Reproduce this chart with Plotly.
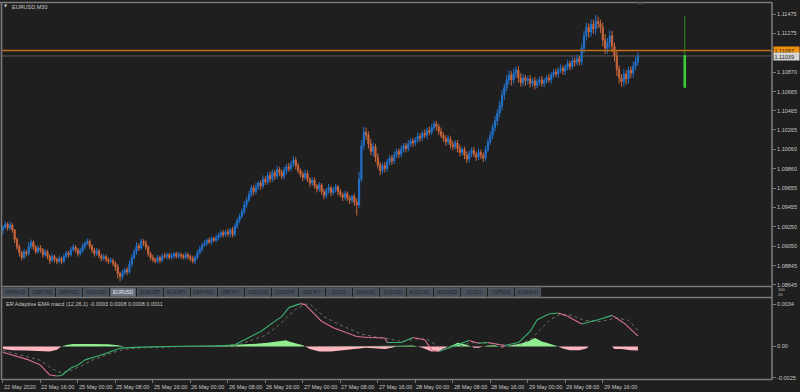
import plotly.graph_objects as go

# ---------------- DATA ----------------
symbol_title = "EURUSD,M30"
indicator_label = "ER Adaptive EMA macd (12,26,1) -0.0003 0.0008 0.0008 0.0011"

close = [
    1.0925, 1.0928, 1.0924, 1.0927, 1.0922, 1.0912, 1.0904, 1.0898, 1.0893, 1.0899, 1.0897, 1.0905, 1.0909, 1.0904, 1.0899, 1.0903,
    1.0901, 1.0896, 1.0899, 1.0894, 1.0890, 1.0894, 1.0891, 1.0889, 1.0892, 1.0889, 1.0894, 1.0898, 1.0896, 1.0901, 1.0904, 1.0901,
    1.0897, 1.0900, 1.0905, 1.0908, 1.0910, 1.0905, 1.0901, 1.0897, 1.0900, 1.0895, 1.0892, 1.0894, 1.0891, 1.0889, 1.0890, 1.0887,
    1.0883, 1.0876, 1.0873, 1.0877, 1.0880, 1.0878, 1.0886, 1.0893, 1.0899, 1.0905, 1.0903, 1.0910, 1.0908, 1.0904, 1.0897, 1.0893,
    1.0891, 1.0889, 1.0893, 1.0890, 1.0895, 1.0894, 1.0896, 1.0893, 1.0895, 1.0897, 1.0894, 1.0896, 1.0895, 1.0893, 1.0896, 1.0894,
    1.0892, 1.0889, 1.0893, 1.0898, 1.0902, 1.0906, 1.0908, 1.0911, 1.0909, 1.0913, 1.0911, 1.0914, 1.0916, 1.0919, 1.0917, 1.0920,
    1.0918, 1.0922, 1.0917, 1.0926, 1.0932, 1.0936, 1.0941, 1.0948, 1.0953, 1.0959, 1.0966, 1.0962, 1.0967, 1.0971, 1.0968, 1.0975,
    1.0972, 1.0979, 1.0975, 1.0982, 1.0978, 1.0985, 1.0982, 1.0978, 1.0984, 1.0988, 1.0986, 1.0991, 1.0995, 1.0989, 1.0984, 1.0980,
    1.0977, 1.0981, 1.0975, 1.0971, 1.0974, 1.0968, 1.0965, 1.0969, 1.0962, 1.0958, 1.0963, 1.0966, 1.0961, 1.0964, 1.0967, 1.0962,
    1.0959, 1.0956, 1.0960, 1.0955, 1.0953, 1.0957, 1.0951, 1.0948, 1.0975, 1.1010, 1.1024, 1.1021, 1.1012, 1.1004, 1.1009, 1.0998,
    1.0990, 1.0984, 1.0989, 1.0986, 1.0993, 1.0997, 1.0994, 1.1000, 1.1004, 1.1001, 1.1006, 1.1010, 1.1007, 1.1012, 1.1015, 1.1013,
    1.1016, 1.1020, 1.1018, 1.1023, 1.1021, 1.1026, 1.1024, 1.1029, 1.1033, 1.1030, 1.1025, 1.1021, 1.1018, 1.1014, 1.1017, 1.1011,
    1.1009, 1.1013, 1.1007, 1.1003, 1.1006, 1.1000, 1.0996, 1.1002, 1.1005, 1.1001, 1.0998, 1.1003, 1.1000, 1.0997, 1.1006, 1.1014,
    1.1021, 1.1029, 1.1036, 1.1044, 1.1052, 1.1063, 1.1071, 1.1079, 1.1084, 1.1079, 1.1086, 1.1089, 1.1081, 1.1076, 1.1081, 1.1078,
    1.1080, 1.1075, 1.1078, 1.1073, 1.1077, 1.1079, 1.1075, 1.1078, 1.1081, 1.1079, 1.1084, 1.1087, 1.1085, 1.1089, 1.1091, 1.1088,
    1.1092, 1.1096, 1.1093, 1.1099, 1.1097, 1.1101, 1.1098, 1.1112, 1.1125, 1.1134, 1.1129, 1.1137, 1.1132, 1.1140, 1.1138, 1.1134,
    1.1121, 1.1112, 1.1118, 1.1125, 1.1114, 1.1104, 1.1090, 1.1081, 1.1077, 1.1085, 1.1080, 1.1089, 1.1086, 1.1093, 1.1098, 1.1104,
]
first_open = 1.0922

# wick lengths in pips (0.0001)
upper_wick = [
    2,3,2,4,2,1,2,3,2,3,2,4,3,2,2,3,
    3,2,3,2,2,3,2,2,3,2,3,2,2,3,3,2,
    2,3,3,2,3,2,2,2,3,2,2,3,2,2,3,2,
    2,3,2,3,2,3,4,3,3,4,3,3,2,3,2,2,
    3,2,3,2,2,3,2,2,3,2,2,3,2,2,3,2,
    2,3,2,3,3,2,3,2,3,2,2,3,3,2,3,2,
    3,2,3,3,2,3,3,4,3,4,3,3,4,2,3,4,
    3,3,4,3,3,4,3,3,4,3,4,3,4,3,3,2,
    3,4,3,2,3,3,2,3,2,3,3,4,2,3,3,2,
    3,2,3,2,3,2,3,4,8,6,6,5,4,5,4,3,
    4,3,3,4,3,3,3,4,3,3,4,3,3,4,3,3,
    3,4,3,3,4,3,4,4,3,3,3,4,3,3,4,3,
    4,3,3,4,3,3,4,3,3,4,3,4,3,3,4,4,
    4,4,5,4,5,5,4,5,5,4,5,4,4,5,4,3,
    3,4,3,4,3,3,4,3,3,4,3,3,4,3,4,3,
    3,4,3,4,3,4,3,5,5,5,4,5,5,7,5,4,
    5,6,5,6,5,4,5,4,4,5,4,4,4,5,5,4,
]
lower_wick = [
    5,2,3,2,3,4,3,4,3,2,3,2,3,3,2,2,
    3,3,2,3,4,2,3,3,2,3,2,2,3,2,2,3,
    3,2,2,3,2,3,3,3,2,3,3,2,3,3,2,3,
    4,5,5,3,2,3,2,3,2,3,3,2,3,3,3,3,
    3,2,2,3,2,2,3,2,2,3,2,2,3,2,2,3,
    3,2,3,2,2,3,2,3,2,3,2,2,3,2,3,2,
    3,4,3,2,3,3,2,3,3,2,3,4,3,3,4,3,
    3,3,4,3,4,3,4,3,3,4,3,3,3,4,3,3,
    4,3,3,4,3,3,4,3,3,4,3,3,4,3,3,4,
    3,4,3,3,4,3,4,11,3,3,4,5,5,4,5,5,
    4,5,3,4,3,3,4,3,3,4,3,3,4,3,3,4,
    3,3,4,3,3,4,3,3,3,4,4,3,4,4,3,4,
    4,3,4,4,3,4,4,3,4,3,4,3,4,4,3,3,
    3,4,4,5,4,5,5,4,5,6,4,5,5,4,4,5,
    4,4,3,4,3,4,3,4,3,3,4,3,3,4,3,4,
    4,3,4,3,4,3,4,4,5,5,6,5,5,6,5,6,
    7,6,6,7,6,6,7,6,5,5,6,5,5,5,4,4,
]

time_labels = ["22 May 2020", "22 May 16:00", "25 May 00:00", "25 May 08:00", "25 May 16:00",
               "26 May 00:00", "26 May 08:00", "26 May 16:00", "27 May 00:00", "27 May 08:00",
               "27 May 16:00", "28 May 00:00", "28 May 08:00", "28 May 16:00", "29 May 00:00",
               "29 May 08:00", "29 May 16:00"]
time_label_bars = [0, 16, 32, 48, 64, 80, 96, 112, 128, 144, 160, 176, 192, 208, 224, 240, 256]

price_ticks = [1.11475, 1.11275, 1.10870, 1.10665, 1.10465, 1.10265, 1.10060, 1.09860,
               1.09655, 1.09455, 1.09250, 1.09050, 1.08845, 1.08645]
hline_price = 1.11097
bid_price = 1.11039

range_bar_index = 291
range_top, range_mid, range_bottom = 1.11454, 1.11046, 1.10706

macd_bar = [0, 11, 16, 20, 23, 25, 29, 32, 35, 42, 50, 59, 76, 93, 99, 110, 116, 119, 122, 127, 129,
            136, 141, 151, 156, 163, 164, 170, 175, 180, 183, 186, 194, 199, 203, 207, 214, 220,
            225, 228, 233, 237, 241, 247, 254, 260, 265, 271]
macd_val = [-0.00045, -0.00107, -0.00148, -0.00228, -0.00236, -0.00232, -0.00172, -0.00148, -0.00107,
            -0.00067, -0.00013, -0.00005, 0.00002, 0.00006, 0.00014, 0.00121, 0.00202, 0.00240, 0.00312,
            0.00344, 0.00336, 0.00202, 0.00151, 0.00081, 0.00073, 0.00068, 0.00032, 0.00032, 0.00073,
            0.00054, -0.00027, -0.00040, 0.00014, 0.00048, 0.00027, 0.00032, 0.00008, 0.00032, 0.00121,
            0.00215, 0.00261, 0.00269, 0.00242, 0.00181, 0.00215, 0.00250, 0.00189, 0.00086]

signal_bar = [0, 10, 16, 21, 25, 29, 33, 38, 45, 52, 60, 76, 94, 100, 112, 117, 121, 125, 129, 131, 137,
              143, 153, 158, 165, 170, 176, 181, 185, 188, 196, 200, 205, 210, 215, 221, 226, 230, 234,
              238, 243, 248, 255, 262, 267, 271]
signal_val = [-0.0003, -0.0008, -0.0011, -0.0018, -0.0021, -0.0019, -0.0016, -0.0011, -0.0006, -0.0002,
              -0.0001, 0.0, 0.00003, 0.0001, 0.0009, 0.0016, 0.0023, 0.0030, 0.0034, 0.0034, 0.0024,
              0.0018, 0.0010, 0.0008, 0.0006, 0.0004, 0.0006, 0.0006, 0.0001, -0.0002, 0.0001, 0.0003,
              0.0003, 0.0002, 0.0001, 0.0002, 0.0007, 0.0015, 0.0022, 0.0026, 0.0025, 0.0021, 0.0020,
              0.0023, 0.0021, 0.0013]

hist_bar = [0, 4, 10, 16, 20, 23, 25, 27, 30, 38, 45, 49, 52, 58, 60, 65, 67, 72, 80, 90, 95, 100, 108,
            113, 116, 119, 121, 122, 124, 126, 128, 129, 131, 135, 140, 145, 150, 155, 160, 163, 166,
            168, 170, 175, 177, 179, 183, 186, 189, 190, 192, 194, 196, 198, 200, 201, 203, 205, 207,
            210, 212, 213, 215, 217, 220, 224, 226, 227, 228, 230, 232, 234, 236, 237, 239, 242, 246,
            249, 250, 252, 258, 260, 261, 264, 268, 271]
hist_val = [-0.0002, -0.0003, -0.00032, -0.0004, -0.0004, -0.00025, 0.0, 0.00012, 0.0002, 0.0002,
            0.00018, 0.0001, 0.0, 0.0, -0.00005, -0.00005, 0.0, 0.00002, 0.00003, 0.00004, 0.0001,
            0.00013, 0.00022, 0.0003, 0.00038, 0.0004, 0.0005, 0.0004, 0.0003, 0.00025, 0.0001, 0.0,
            -0.0002, -0.0004, -0.0004, -0.0003, -0.0002, -0.0001, -0.00015, -0.0002, -0.0001, 0.0,
            0.00006, 0.00008, 0.0, -0.0001, -0.0004, -0.00035, -0.0001, 0.0, 0.0001, 0.0003, 0.00025,
            0.0001, 0.0, -0.0001, -0.0001, 0.0, 0.00008, 0.0001, 0.0, -0.00008, 0.0, 0.0001, 0.0002,
            0.0004, 0.00055, 0.00068, 0.0006, 0.0004, 0.0003, 0.0002, 0.00005, 0.0, -0.00015, -0.0003,
            -0.0003, -0.00015, 0.0, 0.00004, 0.00006, 0.0, -0.0002, -0.0002, -0.0003, -0.00032]

osc_ticks = [0.0034, 0.0, -0.0025]
osc_tick_text = ["0.0034", "0.00", "-0.0025"]

buttons = ["GBPAUD", "GBPCAD", "GBPNZD", "AUDUSD", "EURUSD", "EURGBP", "EURJPY", "GBPUSD", "GBPJPY",
           "USDCAD", "USDCHF", "USDJPY", "GOLD", "[DAX30]", "[NQ100]", "AUDCAD", "AUDNZD", "[DJ30]",
           "[SP500]", "EURAUD"]
active_button = "EURUSD"

# ---------------- STYLE / LAYOUT ----------------
W, H = 800, 392
ML, MR, MT, MB = 2, 28, 4, 13
PW, PH = W - ML - MR, H - MT - MB
BG = "#1f1f1f"
FRAME = "#7a7a7a"
TXT = "#c8c8c8"
BLUE = "#2272cc"
ORANGE = "#c8663c"
FONT = "Liberation Sans"


def px(x):
    return (x - ML) / PW


def py(y):
    return (H - MB - y) / PH


PX_PER_BAR = 2.343
x_range = [-0.4, PW / PX_PER_BAR - 0.4]
main_range = [1.08627, 1.11583]
osc_range = [-0.0026, 0.00393]

n = len(close)
idx = list(range(n))
opens = [first_open] + close[:-1]
highs = [max(o, c) + u * 0.0001 for o, c, u in zip(opens, close, upper_wick)]
lows = [min(o, c) - d * 0.0001 for o, c, d in zip(opens, close, lower_wick)]

fig = go.Figure()

fig.add_trace(go.Candlestick(
    x=idx, open=opens, high=highs, low=lows, close=close,
    increasing=dict(line=dict(color=BLUE, width=1), fillcolor=BLUE),
    decreasing=dict(line=dict(color=ORANGE, width=1), fillcolor=ORANGE),
    whiskerwidth=0, xaxis="x", yaxis="y", hoverinfo="skip", showlegend=False))

# range indicator bar
fig.add_trace(go.Scatter(x=[range_bar_index, range_bar_index], y=[range_top, range_mid],
                         mode="lines", line=dict(color="#2a8f2a", width=1),
                         xaxis="x", yaxis="y", showlegend=False, hoverinfo="skip"))
fig.add_trace(go.Scatter(x=[range_bar_index, range_bar_index], y=[range_mid, range_bottom],
                         mode="lines", line=dict(color="#38d038", width=2.6),
                         xaxis="x", yaxis="y", showlegend=False, hoverinfo="skip"))

# histogram
fig.add_trace(go.Scatter(x=hist_bar, y=[max(v, 0) for v in hist_val], mode="lines",
                         line=dict(width=0, color="#90ee90"), fill="tozeroy", fillcolor="#90ee90",
                         xaxis="x2", yaxis="y2", showlegend=False, hoverinfo="skip"))
fig.add_trace(go.Scatter(x=hist_bar, y=[min(v, 0) for v in hist_val], mode="lines",
                         line=dict(width=0, color="#ffb6c1"), fill="tozeroy", fillcolor="#ffb6c1",
                         xaxis="x2", yaxis="y2", showlegend=False, hoverinfo="skip"))

# signal (dotted)
fig.add_trace(go.Scatter(x=signal_bar, y=signal_val, mode="lines",
                         line=dict(color="#6e6e6e", width=1, dash="dot"),
                         xaxis="x2", yaxis="y2", showlegend=False, hoverinfo="skip"))

# macd two-colour line
gx, gy, rx, ry = [], [], [], []
for k in range(len(macd_bar) - 1):
    seg_x = [macd_bar[k], macd_bar[k + 1], None]
    seg_y = [macd_val[k], macd_val[k + 1], None]
    if macd_val[k + 1] >= macd_val[k]:
        gx += seg_x; gy += seg_y
    else:
        rx += seg_x; ry += seg_y
fig.add_trace(go.Scatter(x=gx, y=gy, mode="lines", line=dict(color="#3cb371", width=1.1),
                         xaxis="x2", yaxis="y2", showlegend=False, hoverinfo="skip", connectgaps=False))
fig.add_trace(go.Scatter(x=rx, y=ry, mode="lines", line=dict(color="#db7093", width=1.1),
                         xaxis="x2", yaxis="y2", showlegend=False, hoverinfo="skip", connectgaps=False))

shapes = []
# horizontal lines
shapes.append(dict(type="line", xref="paper", yref="y", x0=0, x1=1, y0=hline_price, y1=hline_price,
                   line=dict(color="#c0701a", width=1.6), layer="above"))
shapes.append(dict(type="line", xref="paper", yref="y", x0=0, x1=1, y0=bid_price, y1=bid_price,
                   line=dict(color="#5a5a5a", width=1), layer="below"))


# frames
def hline(y, x0=1, x1=772, w=1.6):
    shapes.append(dict(type="line", xref="paper", yref="paper", x0=px(x0), x1=px(x1), y0=py(y), y1=py(y),
                       line=dict(color=FRAME, width=w)))


def vline(x, y0, y1, w=1.6):
    shapes.append(dict(type="line", xref="paper", yref="paper", x0=px(x), x1=px(x), y0=py(y0), y1=py(y1),
                       line=dict(color=FRAME, width=w)))


hline(2.5, 0, 772)
hline(286.5)
hline(297.5)
hline(379.5)
vline(1.5, 2, 380)
vline(772, 2, 380)

# buttons
annotations = []
for k, name in enumerate(buttons):
    x0 = 2.5 + 27 * k
    active = name == active_button
    shapes.append(dict(type="rect", xref="paper", yref="paper", x0=px(x0), x1=px(x0 + 25),
                       y0=py(296.5), y1=py(288), line=dict(color="#5e6670", width=0.6),
                       fillcolor="#6b7380" if active else "#474f59"))
    annotations.append(dict(text=name, x=px(x0 + 12.5), y=py(292.3), xref="paper", yref="paper",
                            showarrow=False, xanchor="center", yanchor="middle",
                            font=dict(family=FONT, size=4.8, color="#e6e6e6" if active else "#23272c")))

# time labels
for b, lab in zip(time_label_bars, time_labels):
    annotations.append(dict(text=lab, x=b, y=py(386.5), xref="x2", yref="paper", showarrow=False,
                            xanchor="left", yanchor="middle", xshift=-1,
                            font=dict(family=FONT, size=5.5, color=TXT)))

# title & labels
annotations.append(dict(text="▼", x=px(5.5), y=py(6), xref="paper", yref="paper", showarrow=False,
                        xanchor="center", yanchor="middle", font=dict(family="DejaVu Sans", size=4, color=TXT)))
annotations.append(dict(text=symbol_title, x=px(10), y=py(6.5), xref="paper", yref="paper", showarrow=False,
                        xanchor="left", yanchor="middle", font=dict(family=FONT, size=5.5, color=TXT)))
annotations.append(dict(text=indicator_label, x=px(3.5), y=py(304), xref="paper", yref="paper",
                        showarrow=False, xanchor="left", yanchor="middle",
                        font=dict(family=FONT, size=5.5, color=TXT)))
annotations.append(dict(text="▼", x=px(640), y=py(3.5), xref="paper", yref="paper", showarrow=False,
                        xanchor="center", yanchor="middle", font=dict(family="DejaVu Sans", size=5, color="#4d5a5a")))
annotations.append(dict(text="100", x=px(776), y=py(289.6), xref="paper", yref="paper", showarrow=False,
                        xanchor="left", yanchor="middle", font=dict(family=FONT, size=4, color=TXT)))
annotations.append(dict(text="20", x=px(776), y=py(294.6), xref="paper", yref="paper", showarrow=False,
                        xanchor="left", yanchor="middle", font=dict(family=FONT, size=4, color=TXT)))

# price boxes
annotations.append(dict(text="1.11097", x=px(773), y=hline_price, xref="paper", yref="y", showarrow=False,
                        xanchor="left", yanchor="middle", bgcolor="#f0900c", borderpad=0.5,
                        font=dict(family=FONT, size=5.5, color="#1a1a1a"), width=24, align="left"))
annotations.append(dict(text="1.11039", x=px(773), y=bid_price - 0.00004, xref="paper", yref="y", showarrow=False,
                        xanchor="left", yanchor="middle", bgcolor="#d4d4d4", borderpad=0.5,
                        font=dict(family=FONT, size=5.5, color="#1a1a1a"), width=24, align="left"))

main_dom = [py(286.5), 1]
osc_dom = [0, py(297.5)]

fig.update_layout(
    width=W, height=H, margin=dict(l=ML, r=MR, t=MT, b=MB),
    paper_bgcolor=BG, plot_bgcolor=BG,
    showlegend=False, hovermode=False,
    shapes=shapes, annotations=annotations,
    xaxis=dict(domain=[0, 1], range=x_range, anchor="y", showticklabels=False, showgrid=False,
               zeroline=False, ticks="", rangeslider=dict(visible=False), fixedrange=True),
    yaxis=dict(domain=main_dom, range=main_range, side="right", anchor="x", tickvals=price_ticks,
               ticktext=[f"{v:.5f}" for v in price_ticks], ticks="outside", ticklen=3,
               tickcolor=FRAME, showgrid=False, zeroline=False,
               tickfont=dict(family=FONT, size=5.5, color=TXT)),
    xaxis2=dict(domain=[0, 1], range=x_range, anchor="y2", matches="x", tickvals=time_label_bars,
                showticklabels=False, ticks="outside", ticklen=3, tickcolor=FRAME, showgrid=False,
                zeroline=False),
    yaxis2=dict(domain=osc_dom, range=osc_range, side="right", anchor="x2", tickvals=osc_ticks,
                ticktext=osc_tick_text, ticks="outside", ticklen=3, tickcolor=FRAME, showgrid=False,
                zeroline=False, tickfont=dict(family=FONT, size=5.5, color=TXT)),
)

fig.write_html("out.html")
